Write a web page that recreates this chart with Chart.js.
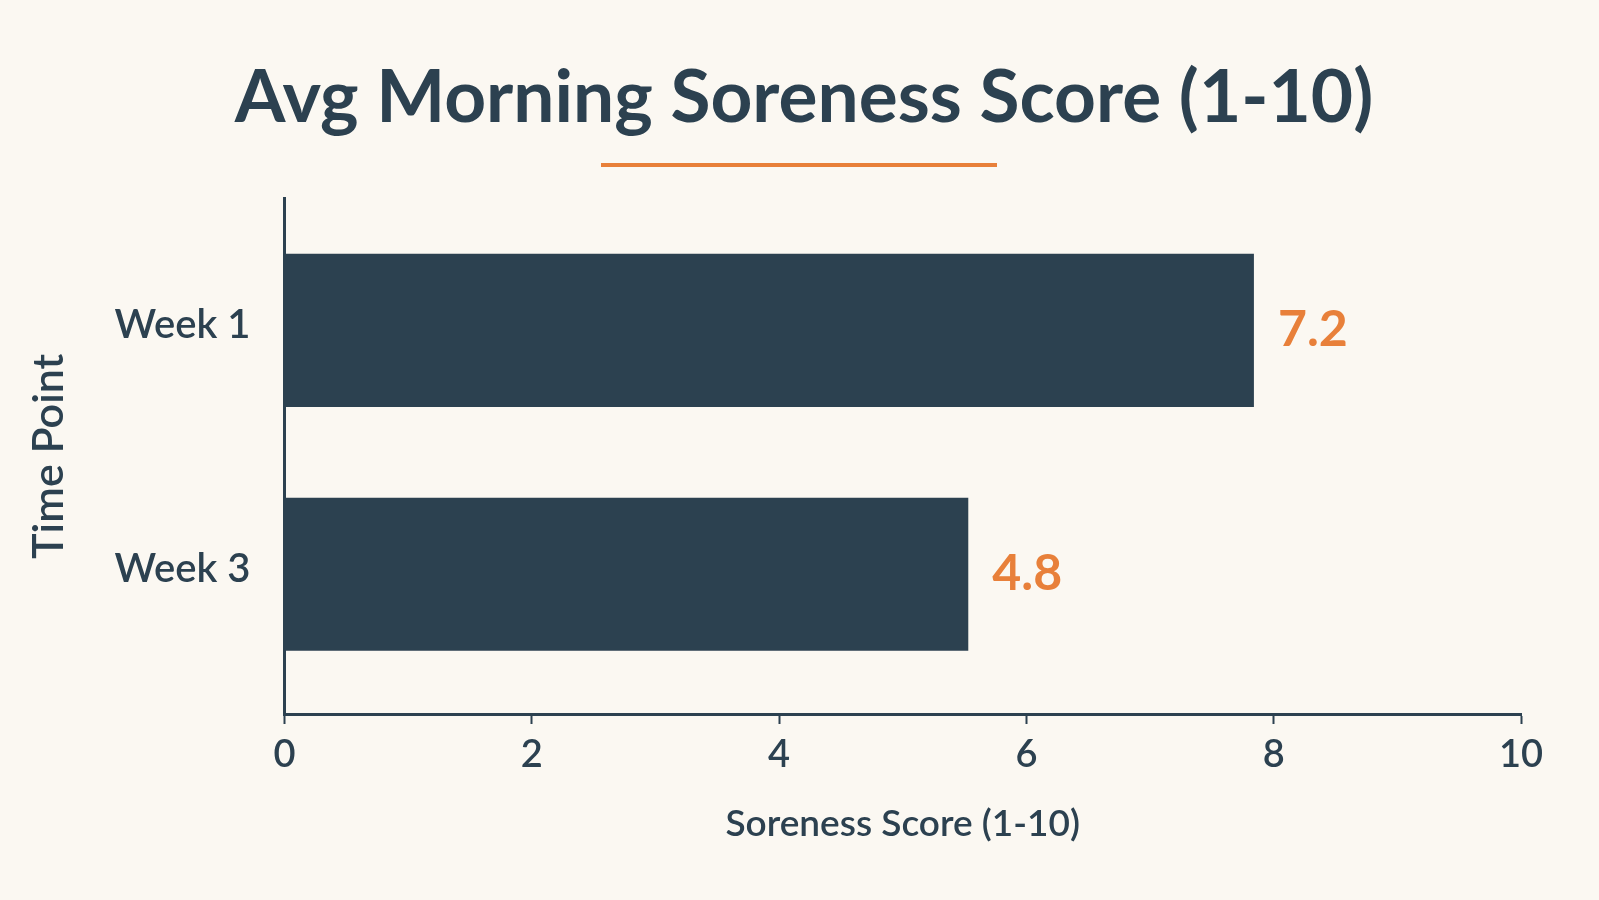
<!DOCTYPE html>
<html>
<head>
<meta charset="utf-8">
<script src="https://cdn.jsdelivr.net/npm/chart.js@4"></script>
<style>
  html, body { margin: 0; padding: 0; background: #fbf8f2; }
  canvas { display: block; }
</style>
</head>
<body>
<canvas id="chart" width="1599" height="900"></canvas>
<script>
// data ====================================
const timePoints = ["Week 1", "Week 3"];
// bar lengths as drawn in the picture (on the 0-10 axis)
const barLengths = [7.84, 5.53];
// values printed next to the bars
const printedValues = ["7.2", "4.8"];
const xTicks = [0, 2, 4, 6, 8, 10];

const dark = "#2c4150";
const orange = "#e8803a";
const fontFamily = "Lato, 'Noto Sans', sans-serif";

// orange line under the title
const underline = {
  id: "underline",
  afterDraw(chart) {
    const ctx = chart.ctx;
    ctx.save();
    ctx.strokeStyle = orange;
    ctx.lineWidth = 4;
    ctx.beginPath();
    ctx.moveTo(601, 165);
    ctx.lineTo(997, 165);
    ctx.stroke();
    ctx.restore();
  },
};

// value labels to the right of each bar
const valueLabels = {
  id: "valueLabels",
  afterDatasetsDraw(chart) {
    const ctx = chart.ctx;
    const meta = chart.getDatasetMeta(0);
    ctx.save();
    ctx.fillStyle = orange;
    ctx.font = "bold 50px " + fontFamily;
    ctx.textAlign = "left";
    ctx.textBaseline = "middle";
    meta.data.forEach((bar, i) => {
      ctx.fillText(printedValues[i], bar.x + 24, bar.y);
    });
    ctx.restore();
  },
};

new Chart(document.getElementById("chart"), {
  type: "bar",
  data: {
    labels: timePoints,
    datasets: [
      {
        data: barLengths.map((v, i) => ({ x: v, y: i })),
        backgroundColor: dark,
        borderWidth: 0,
        categoryPercentage: 0.628,
        barPercentage: 1,
      },
    ],
  },
  options: {
    indexAxis: "y",
    responsive: false,
    animation: false,
    layout: {
      // uneven left/right so the title sits where it does in the picture
      padding: { left: 87, right: 78, bottom: 20, top: 0 },
    },
    plugins: {
      legend: { display: false },
      tooltip: { enabled: false },
      title: {
        display: true,
        text: "Avg Morning Soreness Score (1-10)",
        color: dark,
        font: { family: fontFamily, size: 73, weight: "bold" },
        padding: { top: 55, bottom: 56 },
      },
    },
    scales: {
      x: {
        min: 0,
        max: 10,
        afterBuildTicks(scale) {
          scale.ticks = xTicks.map((v) => ({ value: v }));
        },
        afterFit(scale) {
          scale.height = 900 - 714 - 20;
        },
        border: { display: true, color: dark, width: 3 },
        grid: {
          drawOnChartArea: false,
          drawTicks: true,
          tickLength: 10,
          tickWidth: 2,
          color: dark,
        },
        ticks: {
          color: dark,
          padding: 8,
          font: { family: fontFamily, size: 38, weight: "600" },
        },
        title: {
          display: true,
          text: "Soreness Score (1-10)",
          color: dark,
          font: { family: fontFamily, size: 37, weight: "600" },
          padding: { top: 0, bottom: 34 },
        },
      },
      y: {
        type: "linear",
        offset: false,
        reverse: true,
        min: -0.54,
        max: 1.573,
        afterBuildTicks(scale) {
          scale.ticks = timePoints.map((t, i) => ({ value: i }));
        },
        afterFit(scale) {
          scale.width = 284.5 - 87;
        },
        border: { display: true, color: dark, width: 3 },
        grid: { display: false, drawTicks: false },
        ticks: {
          color: dark,
          padding: 34,
          labelOffset: -5,
          font: { family: fontFamily, size: 40, weight: "600" },
          callback: (v) => timePoints[v],
        },
        title: {
          display: true,
          text: "Time Point",
          color: dark,
          font: { family: fontFamily, size: 43, weight: "600" },
          padding: { top: -64, bottom: 0 },
        },
      },
    },
  },
  plugins: [underline, valueLabels],
});
</script>
</body>
</html>
